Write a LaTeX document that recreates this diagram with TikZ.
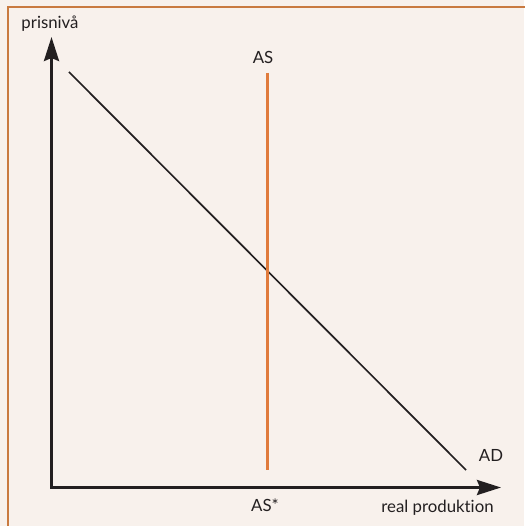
\documentclass[tikz,border=0pt]{standalone}
\usepackage{fontspec}
\setmainfont{Lato}[Ligatures=NoCommon]
\usetikzlibrary{arrows.meta}
\definecolor{bg}{HTML}{F8F1EC}
\definecolor{frame}{HTML}{C97A40}
\definecolor{asline}{HTML}{E07B3C}
\definecolor{ink}{HTML}{231F20}
\tikzset{
  lbl/.style={font=\fontsize{16.8}{18}\selectfont, text=ink, inner sep=0pt},
  axis/.style={draw=ink, line width=3pt, line join=miter,
    {Stealth[length=24pt,width=15pt,inset=3pt]}-{Stealth[length=24pt,width=15pt,inset=3pt]}},
  curve/.style={draw=ink, line width=1.7pt},
}
\begin{document}
\begin{tikzpicture}[x=1pt,y=-1pt]
\useasboundingbox (0,0) rectangle (524,526);
\fill[bg] (0,0) rectangle (524,526);
\draw[frame, line width=2pt] (8,527) -- (8,7) -- (525,7);
% axes
\coordinate (ytop) at (51.5,37);
\coordinate (origin) at (51.5,487.5);
\coordinate (xend) at (501,487.5);
\draw[axis] (ytop) -- (origin) -- (xend);
% AD
\coordinate (ad1) at (69,72);
\coordinate (ad2) at (466,470);
\draw[curve] (ad1) -- (ad2);
% AS
\coordinate (as1) at (267.5,73);
\coordinate (as2) at (267.5,470);
\draw[asline, line width=3pt] (as1) -- (as2);
% labels
\node[lbl] (py) at (50,24) {prisnivå};
\node[lbl] (asl) at (263,57.5) {AS};
\node[lbl] (asstar) at (265,505) {AS*};
\node[lbl] (adl) at (491,455) {AD};
\node[lbl] (px) at (437.5,508) {real produktion};
\end{tikzpicture}
\end{document}
